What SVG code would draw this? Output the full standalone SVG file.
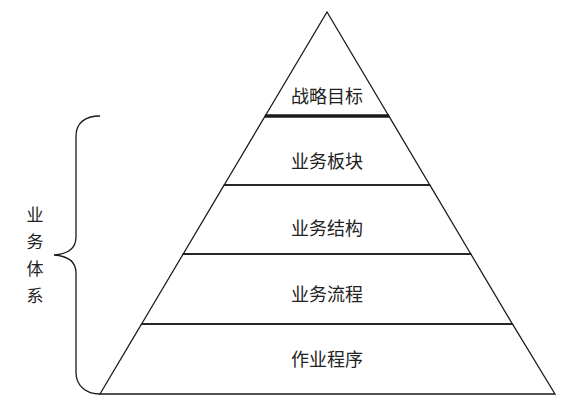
<svg xmlns="http://www.w3.org/2000/svg" width="569" height="403" viewBox="0 0 569 403">
<style>
.layer{fill:none;stroke:#1a1a1a;stroke-width:1.3;stroke-linejoin:miter}
.lbl{font-family:"Noto Sans CJK SC","Noto Sans",sans-serif;font-size:18px;fill:#222;text-anchor:middle;dominant-baseline:central}
.side{font-size:17px}
.brace{fill:none;stroke:#1a1a1a;stroke-width:1.3}
</style>
<rect width="569" height="403" fill="#fff"/>
<g id="layer-strategy">
<polygon class="layer" points="327,12 388.8,116 265.2,116"/>
<text class="lbl" x="327" y="95">战略目标</text>
</g>
<g id="layer-segments">
<polygon class="layer" points="265.2,116 388.8,116 429.8,185 224.2,185"/>
<text class="lbl" x="327" y="160">业务板块</text>
</g>
<g id="layer-structure">
<polygon class="layer" points="224.2,185 429.8,185 470.8,254 183.2,254"/>
<text class="lbl" x="327" y="227">业务结构</text>
</g>
<g id="layer-process">
<polygon class="layer" points="183.2,254 470.8,254 512.4,324 141.6,324"/>
<text class="lbl" x="327" y="293">业务流程</text>
</g>
<g id="layer-procedure">
<polygon class="layer" points="141.6,324 512.4,324 555,394 100,394"/>
<text class="lbl" x="327" y="358">作业程序</text>
</g>
<g id="connectors">
<line x1="265" y1="116" x2="389" y2="116" stroke="#1a1a1a" stroke-width="3.5"/>
<path class="brace" d="M100,116 C85,116 76,123 76,136 L76,237 C76,248 68,254 54,255 C68,256 76,262 76,273 L76,372 C76,386 86,394 100,394"/>
</g>
<g id="business-system">
<text class="lbl side" x="35" y="213">业</text>
<text class="lbl side" x="35" y="240">务</text>
<text class="lbl side" x="35" y="267">体</text>
<text class="lbl side" x="35" y="294">系</text>
</g>
</svg>
